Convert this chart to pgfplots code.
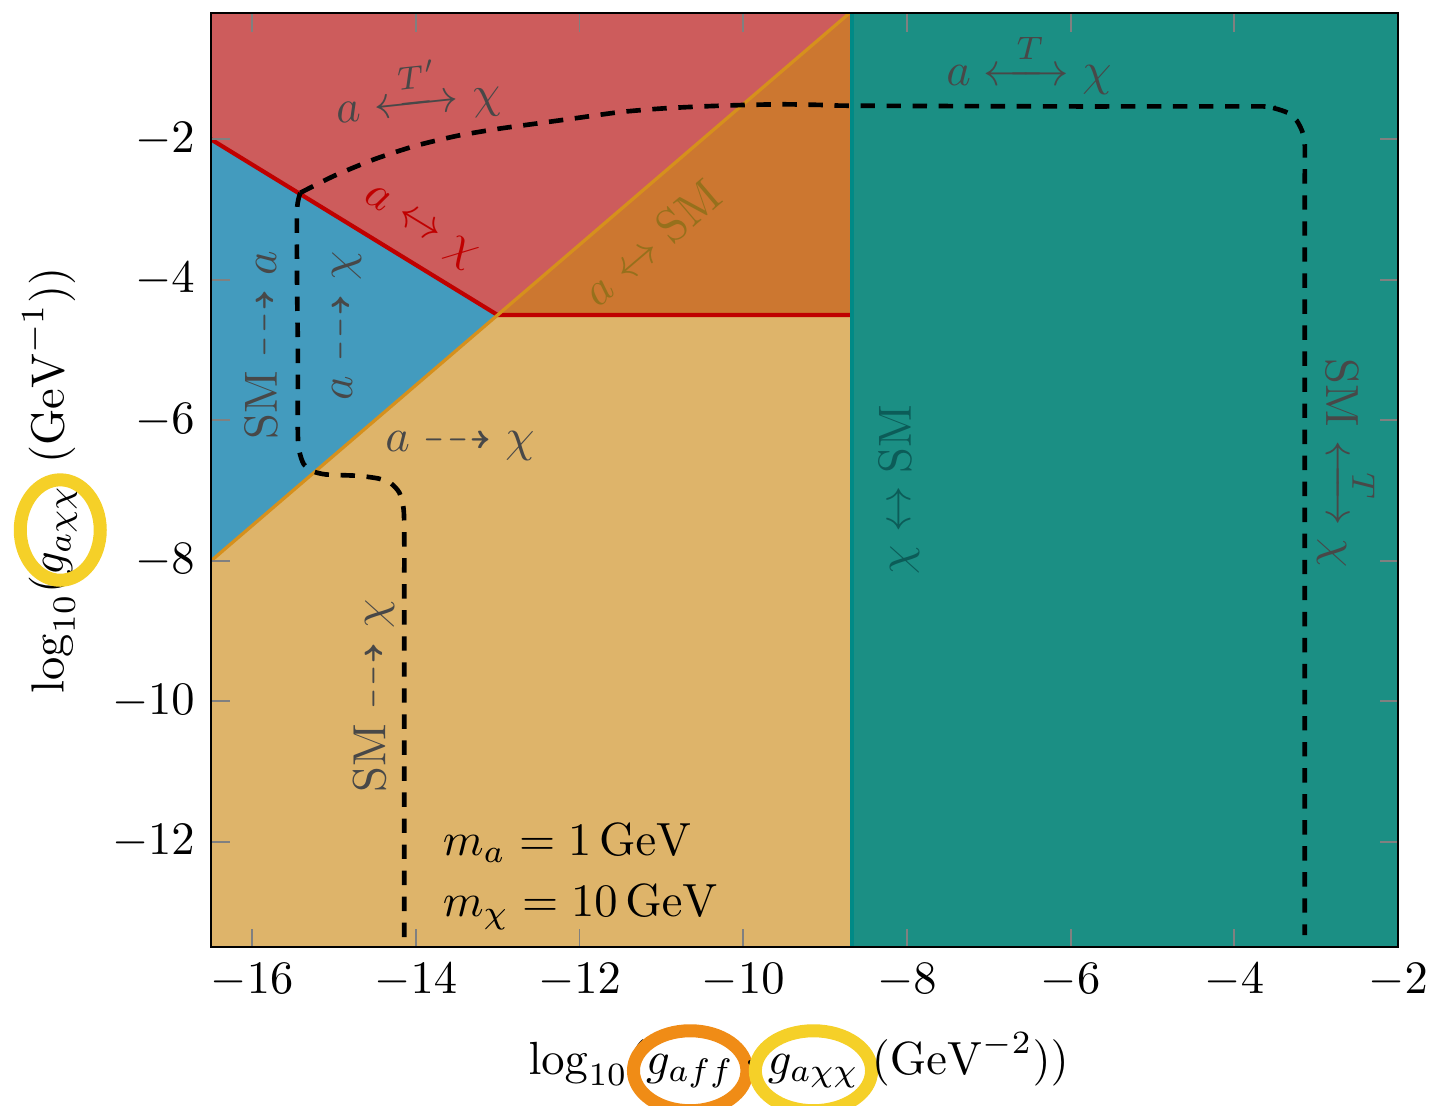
\documentclass[border=0pt]{standalone}
\usepackage{amsmath}
\usepackage{amssymb}
\usepackage{mathtools}
\usepackage{pgfplots}
\pgfplotsset{compat=1.18}

\definecolor{cred}{RGB}{205,92,92}
\definecolor{cblue}{RGB}{67,155,190}
\definecolor{cdorange}{RGB}{204,119,48}
\definecolor{ctan}{RGB}{222,180,106}
\definecolor{cteal}{RGB}{27,143,132}
\definecolor{ctealline}{RGB}{0,138,134}
\definecolor{credline}{RGB}{192,0,0}
\definecolor{corangeline}{RGB}{214,144,28}
\definecolor{ctext}{RGB}{72,72,72}
\definecolor{cbrown}{RGB}{150,112,28}
\definecolor{ctealtext}{RGB}{12,92,88}
\definecolor{corange}{RGB}{240,140,22}
\definecolor{cyellow}{RGB}{245,208,40}

\newcommand{\dasharr}{\dashrightarrow}
\newcommand{\larr}[1]{\xleftrightarrow{\makebox[12pt]{$\scriptstyle #1$}}}
\newcommand{\circled}[4]{\tikz[baseline=(X.base)]{\node[inner sep=0pt](X){$#1$};\draw[overlay, line width=2.8pt, #2] (X.center) ellipse (#3 and #4);}}

\begin{document}
\begin{tikzpicture}
\begin{axis}[
  at={(0,0)}, anchor=south west,
  scale only axis, width=255.3pt, height=200.9pt,
  xmin=-16.5, xmax=-2, ymin=-13.5, ymax=-0.2,
  xtick={-16,-14,...,-2}, ytick={-12,-10,...,-2},
  axis on top,
  tick style={color=gray, line width=0.4pt},
  major tick length=4pt,
  xlabel={$\log_{10}(\circled{g_{aff}}{corange}{12.2pt}{8.6pt}\cdot\circled{g_{a\chi\chi}}{cyellow}{12.5pt}{8.6pt}\;(\mathrm{GeV}^{-2}))$},
  ylabel={$\log_{10}(\circled{g_{a\chi\chi}}{cyellow}{10.8pt}{8.6pt}\;\,(\mathrm{GeV}^{-1}))$},
  x label style={at={(axis description cs:0.495,-0.121)}, anchor=center},
  y label style={at={(axis description cs:-0.136,0.5)}, anchor=center},
]
% regions
\addplot[fill=cred, draw=none] coordinates {(-16.5,0) (-16.5,-2) (-13,-4.5) (-8.5,0)} -- cycle;
\addplot[fill=cblue, draw=none] coordinates {(-16.5,-2) (-13,-4.5) (-16.5,-8)} -- cycle;
\addplot[fill=cdorange, draw=none] coordinates {(-13,-4.5) (-8.5,0) (-8,0) (-8,-4.5)} -- cycle;
\addplot[fill=ctan, draw=none] coordinates {(-16.5,-8) (-13,-4.5) (-8,-4.5) (-8,-14) (-16.5,-14)} -- cycle;
\addplot[fill=cteal, draw=none] coordinates {(-8.67,-14) (-8.67,0) (-2,0) (-2,-14)} -- cycle;
% boundary lines
\addplot[credline, line width=0.9pt] coordinates {(-16.5,-2) (-13,-4.5) (-8.67,-4.5)};
\addplot[corangeline, line width=0.7pt] coordinates {(-16.5,-8) (-8.5,0)};
\addplot[ctealline, line width=0.7pt] coordinates {(-8.67,-14) (-8.67,0)};
% dashed curves
\addplot[black, line width=1pt, dash pattern=on 3.1pt off 2.5pt, smooth, tension=0.4] coordinates {
(-15.41,-2.76) (-15.0,-2.52) (-14.5,-2.28) (-14.0,-2.09) (-13.5,-1.95) (-13.0,-1.85)
(-12.5,-1.77) (-12.0,-1.69) (-11.5,-1.61) (-11.0,-1.56) (-10.5,-1.53) (-10.0,-1.51)
(-9.5,-1.50) (-9.0,-1.51) (-8.67,-1.52) (-6,-1.53) (-3.65,-1.53) (-3.5,-1.56) (-3.35,-1.62)
(-3.24,-1.73) (-3.17,-1.89) (-3.14,-2.08) (-3.14,-3) (-3.14,-13.33)};
\addplot[black, line width=1pt, dash pattern=on 3.1pt off 2.5pt, smooth, tension=0.4] coordinates {
(-15.41,-2.76) (-15.45,-3.0) (-15.45,-4) (-15.44,-5) (-15.44,-6.2) (-15.42,-6.45) (-15.37,-6.62)
(-15.27,-6.72) (-15.1,-6.77) (-14.7,-6.79) (-14.45,-6.83) (-14.3,-6.9) (-14.2,-7.03)
(-14.15,-7.25) (-14.14,-7.6) (-14.14,-9) (-14.14,-13.5)};
% labels
\node[text=ctext, rotate=6] at (axis cs:-13.98,-1.30) {$a \larr{T'} \chi$};
\node[text=ctext] at (axis cs:-6.51,-0.92) {$a \larr{T} \chi$};
\node[text=credline, rotate=-31.3] at (axis cs:-13.96,-3.27) {$a \leftrightarrow \chi$};
\node[text=cbrown, rotate=40.4] at (axis cs:-11.12,-3.47) {$a \leftrightarrow \mathrm{SM}$};
\node[text=ctext, rotate=90] at (axis cs:-15.89,-4.93) {$\mathrm{SM} \dasharr a$};
\node[text=ctext, rotate=90] at (axis cs:-14.85,-4.65) {$a \dasharr \chi$};
\node[text=ctext] at (axis cs:-13.46,-6.35) {$a \dasharr \chi$};
\node[text=ctext, rotate=90] at (axis cs:-14.51,-9.92) {$\mathrm{SM} \dasharr \chi$};
\node[text=ctealtext, rotate=90] at (axis cs:-8.09,-6.99) {$\chi \leftrightarrow \mathrm{SM}$};
\node[text=ctext, rotate=-90] at (axis cs:-2.61,-6.61) {$\mathrm{SM} \larr{T} \chi$};
\node[anchor=west, align=left] at (axis cs:-13.87,-12.5) {$m_a = 1\,\mathrm{GeV}$\\[1pt]$m_\chi = 10\,\mathrm{GeV}$};
\end{axis}
\pgfresetboundingbox
\path[use as bounding box] (-45.4pt,-34.0pt) rectangle (262.8pt,203.7pt);
\end{tikzpicture}
\end{document}
